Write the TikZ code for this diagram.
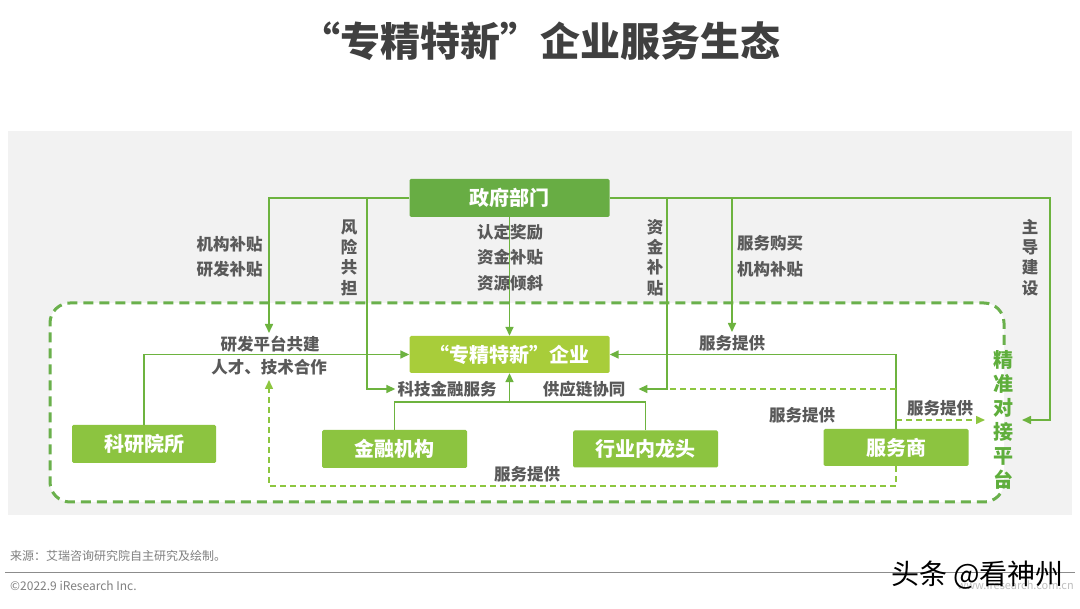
\documentclass[tikz,border=0pt]{standalone}
\usepackage{fontspec}
\setmainfont{Noto Sans CJK SC}
\usetikzlibrary{arrows.meta}
\definecolor{govgreen}{HTML}{68AD44}
\definecolor{entgreen}{HTML}{A8CD3A}
\definecolor{boxgreen}{HTML}{8CC440}
\definecolor{linegreen}{HTML}{6DB33F}
\definecolor{dashgreen}{HTML}{8DC63F}
\definecolor{bndgreen}{HTML}{6AB04C}
\definecolor{lblgray}{HTML}{595959}
\definecolor{titlegray}{HTML}{404040}
\definecolor{bggray}{HTML}{F2F2F2}
\definecolor{platgreen}{HTML}{5FAE3C}
\definecolor{footgray}{HTML}{808080}
\pgfdeclarelayer{bg}
\pgfsetlayers{bg,main}
\tikzset{
  box/.style={rectangle, rounded corners=1.5pt, text=white, font=\fontsize{20}{24}\selectfont\bfseries, inner sep=0pt, anchor=center},
  lbl/.style={text=lblgray, font=\fontsize{16.5}{20}\selectfont\bfseries, inner sep=1pt},
  vlbl/.style={text=lblgray, align=center, font=\fontsize{16.5}{20.3}\selectfont\bfseries, inner sep=0pt},
  conn/.style={draw=linegreen, line width=1.6pt},
  arr/.style={-{Triangle[length=9pt,width=8pt]}},
  dconn/.style={draw=dashgreen, line width=1.5pt, dash pattern=on 6pt off 4pt},
  bnd/.style={draw=bndgreen, line width=3pt, dash pattern=on 10pt off 6pt},
}
\begin{document}
\begin{tikzpicture}[x=1pt,y=-1pt]
\useasboundingbox (0,0) rectangle (1080,609);
\begin{pgfonlayer}{bg}
\fill[white] (0,0) rectangle (1080,609);
\fill[bggray] (8,131) rectangle (1072,515);
\fill[white, rounded corners=20pt] (50,303) rectangle (1004,502);
\draw[bnd, rounded corners=20pt] (1004,345) -- (1004,303) -- (50,303) -- (50,502) -- (1004,502) -- (1004,482);
\end{pgfonlayer}

% title
\node[text=titlegray, font=\fontsize{40}{44}\selectfont\bfseries] (title) at (540,41) {“专精特新”企业服务生态};

% boxes
\node[box, fill=govgreen, minimum width=200pt, minimum height=38pt] (gov) at (509.5,198) {政府部门};
\node[box, fill=entgreen, minimum width=200pt, minimum height=37pt] (ent) at (509.5,354.5) {“专精特新”企业};
\node[box, fill=boxgreen, minimum width=144pt, minimum height=38pt] (res) at (144,444) {科研院所};
\node[box, fill=boxgreen, minimum width=145pt, minimum height=38pt] (fin) at (394.5,449) {金融机构};
\node[box, fill=boxgreen, minimum width=145pt, minimum height=37pt] (lead) at (645.5,449) {行业内龙头};
\node[box, fill=boxgreen, minimum width=145pt, minimum height=37pt] (svc) at (896,447.5) {服务商};

% platform text
\node[text=platgreen, align=center, font=\fontsize{20}{24}\selectfont\bfseries, inner sep=0pt] (plat) at (1003,420) {精\\准\\对\\接\\平\\台};

% labels
\node[lbl] (l1a) at (229.5,244) {机构补贴};
\node[lbl] (l1b) at (229.5,269) {研发补贴};
\node[vlbl] (l2) at (349,257.5) {风\\险\\共\\担};
\node[lbl] (l3a) at (510,232) {认定奖励};
\node[lbl] (l3b) at (510,257) {资金补贴};
\node[lbl] (l3c) at (510,283) {资源倾斜};
\node[vlbl] (l4) at (655,257.5) {资\\金\\补\\贴};
\node[lbl] (l5a) at (770,243) {服务购买};
\node[lbl] (l5b) at (770,269) {机构补贴};
\node[vlbl] (l6) at (1030,257.5) {主\\导\\建\\设};
\node[lbl] (l7a) at (270,344) {研发平台共建};
\node[lbl] (l7b) at (269,367) {人才、技术合作};
\node[lbl] (kj) at (447,389) {科技金融服务};
\node[lbl] (gy) at (584,389) {供应链协同};
\node[lbl] (s1) at (732,343) {服务提供};
\node[lbl] (s2) at (802,415) {服务提供};
\node[lbl] (s3) at (940,408) {服务提供};
\node[lbl] (s4) at (527,474) {服务提供};

% coordinates
\coordinate (tA) at (269,333);
\coordinate (r1) at (367,198);
\coordinate (r2) at (667,198);
\coordinate (r3) at (732,198);
\coordinate (tB) at (732,332);
\coordinate (zc) at (1050,420);
\coordinate (tZ) at (1022,420);
\coordinate (mid) at (509.5,402);
\coordinate (d1) at (269,486);
\coordinate (d2) at (269,380);
\coordinate (e1) at (896,389);
\coordinate (e2) at (667,389);
\coordinate (f1) at (896,420);
\coordinate (f2) at (985,420);

\begin{pgfonlayer}{bg}
\draw[conn,arr] (gov.west) -| (tA);
\draw[conn,arr] (gov.east) -| (zc) -- (tZ);
\draw[conn,arr] (r1) |- ([xshift=-1pt]kj.west);
\draw[conn,arr] (r2) |- ([xshift=12pt]gy.east);
\draw[conn,arr] (r3) -- (tB);
\draw[conn,arr] (gov.south) -- (ent.north);
\draw[conn,arr] (res.north) |- (ent.west);
\draw[conn,arr] (svc.north) |- (ent.east);
\draw[conn] (fin.north) |- (mid) -| (lead.north);
\draw[conn,arr] (mid) -- (ent.south);
\draw[dconn,arr] (svc.south) |- (d1) -- (d2);
\draw[dconn] (e1) -- (e2);
\draw[dconn,arr] (f1) -- (f2);
\end{pgfonlayer}

% footer
\node[text=footgray, font=\fontsize{12}{14}\selectfont, anchor=west, inner sep=0pt] (src) at (10,556) {来源：艾瑞咨询研究院自主研究及绘制。};
\coordinate (fl1) at (5,573);
\coordinate (fl2) at (1075,573);
\draw[draw=black!45, line width=1pt] (fl1) -- (fl2);
\node[text=footgray, font=\fontsize{12}{14}\selectfont, anchor=west, inner sep=0pt] (copy) at (10,586) {©2022.9 iResearch Inc.};
\node[text=black!25, font=\fontsize{11}{13}\selectfont, anchor=east, inner sep=0pt] (www) at (1074,585) {www.iresearch.com.cn};
\node[text=black, font=\fontsize{28}{32}\selectfont, anchor=east, inner sep=0pt] (wm) at (1064,575) {头条 @看神州};
\end{tikzpicture}
\end{document}
